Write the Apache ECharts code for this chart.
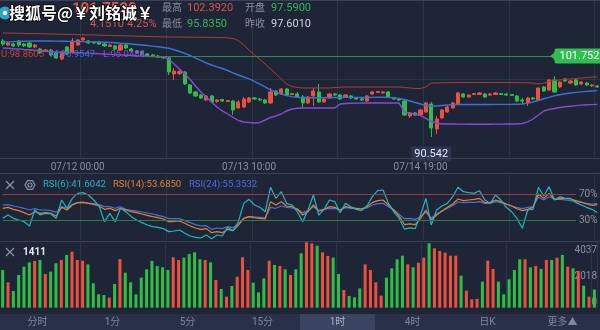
<!DOCTYPE html>
<html>
<head>
<meta charset="utf-8">
<script src="https://cdn.jsdelivr.net/npm/echarts@6/dist/echarts.min.js"></script>
<style>
  html, body { margin: 0; padding: 0; background: #1e2536; }
  #chart { width: 600px; height: 330px; }
</style>
</head>
<body>
<div id="chart"></div>
<script>
// Hourly OHLC candles
const openPrices = [
  103.83, 103.27, 103.41, 103.83, 103.41, 103.55, 103.00, 102.72, 102.37, 102.58,
  102.17, 101.34, 103.00, 102.31, 103.27, 103.97, 103.83, 103.69, 103.69, 103.41,
  103.07, 103.14, 102.58, 103.27, 102.72, 102.44, 102.31, 102.03, 101.89, 101.75,
  101.68, 101.48, 99.26, 99.33, 99.54, 97.74, 96.77, 96.35, 95.66, 96.22,
  95.45, 95.73, 95.45, 95.52, 94.56, 94.69, 95.39, 95.94, 95.80, 95.66,
  95.25, 96.91, 96.49, 97.18, 96.42, 96.49, 96.08, 95.25, 96.22, 96.77,
  95.39, 95.94, 96.49, 96.35, 96.08, 96.22, 95.94, 95.80, 95.52, 96.49,
  96.70, 96.63, 96.77, 95.94, 95.80, 95.52, 93.45, 93.86, 93.59, 94.00,
  95.11, 91.65, 93.17, 94.00, 94.56, 95.11, 96.49, 96.08, 96.42, 96.42,
  96.49, 96.35, 96.42, 96.56, 96.49, 96.42, 96.22, 95.66, 95.25, 95.94,
  95.66, 97.46, 97.05, 98.43, 97.46, 98.57, 98.01, 98.43, 97.88, 98.01,
  97.60, 97.60
];
const closePrices = [
  103.41, 103.55, 103.14, 103.27, 103.14, 103.00, 103.27, 102.17, 102.58, 101.89,
  101.48, 102.31, 102.03, 103.83, 103.97, 104.24, 103.55, 103.55, 103.41, 103.14,
  103.27, 102.72, 103.27, 102.86, 102.44, 102.24, 102.03, 101.82, 101.68, 101.61,
  101.48, 99.54, 99.67, 99.60, 97.88, 96.63, 96.22, 95.94, 96.22, 95.39,
  95.66, 95.52, 95.59, 94.28, 95.39, 95.80, 95.94, 95.80, 95.66, 95.25,
  96.77, 96.35, 97.18, 96.35, 96.56, 96.08, 95.25, 96.08, 96.91, 95.39,
  95.80, 96.49, 96.35, 95.80, 96.35, 95.94, 95.80, 95.66, 96.22, 96.77,
  96.84, 96.77, 96.08, 95.80, 95.66, 93.59, 93.86, 93.59, 94.28, 95.25,
  91.79, 93.03, 94.28, 94.69, 95.25, 96.63, 96.08, 96.35, 96.56, 96.63,
  96.08, 96.49, 96.63, 96.42, 96.35, 96.29, 95.52, 95.52, 95.94, 95.80,
  97.32, 96.91, 98.43, 96.77, 98.15, 98.29, 98.29, 97.74, 98.15, 97.74,
  97.74, 97.46
];
const lowPrices = [
  103.14, 103.14, 103.00, 103.00, 103.00, 102.86, 102.86, 102.03, 102.31, 101.75,
  101.34, 101.20, 101.89, 102.03, 103.14, 103.83, 103.41, 103.41, 103.27, 103.00,
  103.00, 102.58, 102.44, 102.72, 102.31, 102.17, 101.89, 101.75, 101.61, 101.48,
  101.34, 99.12, 98.43, 99.12, 97.74, 96.49, 96.08, 95.80, 95.52, 95.25,
  95.25, 95.39, 95.39, 93.59, 94.42, 94.56, 95.25, 95.66, 95.52, 95.11,
  95.11, 96.22, 96.35, 96.22, 96.35, 95.94, 94.56, 95.11, 94.83, 95.25,
  95.25, 95.80, 96.22, 95.66, 95.94, 95.80, 95.66, 95.52, 95.39, 96.35,
  96.63, 96.49, 95.94, 95.66, 95.52, 93.45, 93.17, 93.45, 93.45, 93.86,
  90.542, 90.96, 93.03, 93.86, 94.42, 94.97, 95.94, 95.94, 96.35, 96.35,
  95.94, 96.22, 96.35, 96.35, 96.22, 96.22, 95.39, 95.11, 94.83, 95.66,
  95.52, 96.77, 96.91, 96.63, 97.32, 98.15, 97.88, 97.60, 97.74, 97.60,
  97.46, 97.32
];
const highPrices = [
  104.10, 103.69, 103.55, 103.97, 103.55, 103.69, 103.41, 102.86, 102.72, 102.72,
  102.31, 102.44, 103.14, 104.24, 104.10, 104.38, 103.97, 103.83, 103.83, 103.55,
  103.41, 103.27, 103.41, 103.41, 102.86, 102.58, 102.44, 102.17, 102.03, 101.89,
  101.75, 101.75, 100.09, 99.81, 99.67, 97.88, 96.91, 96.49, 96.35, 96.35,
  95.80, 95.80, 95.66, 95.66, 95.66, 96.08, 96.08, 96.08, 95.94, 95.80,
  97.32, 97.05, 97.32, 97.32, 96.63, 96.77, 96.35, 96.22, 97.32, 97.88,
  95.94, 96.63, 96.63, 96.49, 96.49, 96.35, 96.08, 95.94, 96.35, 96.91,
  96.91, 96.91, 96.91, 96.08, 95.94, 95.66, 94.00, 94.00, 94.42, 95.39,
  95.39, 93.45, 94.42, 94.83, 95.39, 96.77, 96.63, 96.49, 96.63, 96.77,
  96.63, 96.63, 96.77, 96.63, 96.63, 96.49, 96.35, 95.94, 96.08, 96.08,
  97.46, 97.60, 98.57, 98.98, 98.29, 98.71, 98.43, 98.57, 98.29, 98.15,
  97.88, 97.74
];

// Bollinger bands (upper / middle / lower)
const bollUpper = [
  104.93, 104.92, 104.91, 104.89, 104.88, 104.86, 104.85, 104.84, 104.82, 104.79,
  104.78, 104.77, 104.74, 104.73, 104.71, 104.68, 104.67, 104.66, 104.64, 104.61,
  104.60, 104.57, 104.56, 104.53, 104.52, 104.49, 104.48, 104.45, 104.43, 104.41,
  104.39, 104.38, 104.38, 104.37, 104.37, 104.35, 104.35, 104.34, 104.34, 104.32,
  104.31, 104.30, 104.27, 104.17, 103.89, 103.27, 102.58, 101.89, 101.27, 100.64,
  99.95, 99.26, 98.57, 97.87, 97.53, 97.39, 97.32, 97.32, 97.32, 97.32,
  97.32, 97.32, 97.39, 97.43, 97.46, 97.46, 97.46, 97.46, 97.46, 97.46,
  97.46, 97.46, 97.46, 97.46, 97.46, 97.39, 97.32, 97.25, 97.25, 97.46,
  98.01, 98.01, 98.04, 98.05, 98.07, 98.08, 98.08, 98.08, 98.07, 98.08,
  98.08, 98.08, 98.07, 98.08, 98.08, 98.07, 98.06, 98.05, 98.03, 98.01,
  97.87, 98.01, 98.22, 98.36, 98.43, 98.50, 98.57, 98.64, 98.70, 98.77,
  98.82, 98.8605
];
const bollMid = [
  103.69, 103.71, 103.74, 103.77, 103.80, 103.81, 103.83, 103.83, 103.83, 103.83,
  103.81, 103.80, 103.78, 103.77, 103.76, 103.74, 103.71, 103.70, 103.69, 103.66,
  103.62, 103.58, 103.52, 103.47, 103.41, 103.34, 103.27, 103.20, 103.11, 103.02,
  102.93, 102.83, 102.61, 102.37, 102.10, 101.82, 101.47, 101.13, 100.78, 100.50,
  100.25, 100.02, 99.74, 99.40, 99.12, 98.84, 98.57, 98.25, 97.87, 97.46,
  97.04, 96.77, 96.49, 96.26, 96.12, 96.03, 95.99, 95.98, 95.98, 95.99,
  95.99, 96.01, 96.01, 96.01, 96.02, 96.02, 96.02, 96.01, 96.01, 96.02,
  96.04, 96.04, 96.02, 95.96, 95.88, 95.73, 95.52, 95.31, 95.11, 94.90,
  94.83, 94.83, 94.90, 94.97, 95.02, 95.05, 95.04, 95.04, 95.04, 95.04,
  95.04, 95.04, 95.05, 95.05, 95.05, 95.06, 95.08, 95.11, 95.22, 95.38,
  95.59, 95.83, 96.03, 96.24, 96.38, 96.52, 96.63, 96.71, 96.78, 96.85,
  96.91, 96.9547
];
const bollLower = [
  102.86, 102.82, 102.76, 102.72, 102.66, 102.61, 102.54, 102.47, 102.40, 102.34,
  102.30, 102.28, 102.25, 102.22, 102.19, 102.16, 102.14, 102.10, 102.05, 102.03,
  101.98, 101.94, 101.90, 101.86, 101.82, 101.78, 101.75, 101.71, 101.68, 101.64,
  101.61, 101.33, 100.64, 99.95, 99.26, 98.50, 97.60, 96.77, 96.08, 95.38,
  94.69, 94.14, 93.72, 93.24, 92.82, 92.62, 92.55, 92.48, 92.55, 92.89,
  93.24, 93.45, 93.72, 94.14, 94.41, 94.51, 94.55, 94.55, 94.55, 94.55,
  94.55, 94.55, 94.55, 95.11, 95.18, 95.20, 95.22, 95.24, 95.24, 95.24,
  95.24, 95.24, 95.24, 95.24, 95.24, 94.00, 93.86, 93.65, 93.51, 93.10,
  92.68, 92.48, 92.34, 92.34, 92.33, 92.32, 92.32, 92.31, 92.31, 92.31,
  92.31, 92.31, 92.32, 92.32, 92.33, 92.33, 92.34, 92.40, 92.62, 93.03,
  93.58, 94.14, 94.35, 94.48, 94.62, 94.72, 94.80, 94.88, 94.95, 95.00,
  95.02, 95.0488
];

// RSI(6), RSI(14), RSI(24) in percent
const rsi6 = [
  32.6, 37.7, 32.6, 30.0, 27.4, 20.8, 45.4, 37.7, 40.3, 39.2,
  32.6, 60.8, 48.0, 63.3, 71.0, 72.1, 68.5, 60.8, 51.5, 27.4,
  40.3, 27.4, 48.0, 42.8, 35.1, 30.0, 25.9, 22.3, 19.8, 18.7,
  16.7, 12.1, 13.1, 14.6, 9.5, 5.4, 3.3, 2.3, 6.9, 1.0,
  6.9, 5.4, 18.7, 13.6, 27.4, 55.6, 61.8, 53.1, 49.5, 42.8,
  80.3, 63.3, 73.6, 55.6, 53.1, 42.8, 27.4, 45.4, 68.5, 37.7,
  46.4, 60.8, 58.2, 41.3, 55.6, 50.5, 46.4, 44.4, 51.5, 65.9,
  75.1, 76.2, 55.6, 42.8, 32.6, 16.0, 18.0, 16.7, 37.7, 63.3,
  22.3, 45.4, 51.5, 55.6, 65.9, 80.3, 73.6, 72.1, 71.0, 75.1,
  60.8, 55.6, 68.5, 60.8, 49.5, 42.8, 32.6, 17.2, 45.4, 46.4,
  80.3, 66.9, 81.3, 60.8, 65.9, 63.3, 63.3, 56.7, 53.1, 49.5,
  46.4, 41.6042
];
const rsi14 = [
  48.0, 49.5, 46.4, 44.4, 41.3, 37.7, 42.8, 40.3, 41.3, 40.3,
  36.2, 49.5, 45.4, 53.1, 56.7, 57.2, 55.6, 54.1, 51.5, 46.4,
  48.0, 44.4, 48.0, 45.4, 42.8, 41.3, 39.2, 37.2, 35.1, 33.6,
  31.5, 27.4, 28.0, 28.5, 24.9, 20.8, 17.7, 15.6, 16.7, 10.5,
  12.1, 10.5, 15.6, 13.6, 22.3, 32.6, 35.1, 33.6, 32.6, 31.5,
  58.2, 53.1, 58.2, 51.5, 50.5, 46.9, 37.7, 42.8, 53.1, 43.9,
  46.4, 50.5, 49.5, 45.4, 50.5, 49.0, 48.0, 46.9, 50.5, 56.7,
  59.8, 60.8, 53.1, 45.4, 36.2, 23.0, 24.0, 23.0, 32.6, 45.4,
  30.0, 37.7, 43.9, 49.5, 54.6, 62.3, 59.8, 60.8, 61.8, 63.3,
  56.7, 56.7, 60.8, 58.2, 54.6, 51.5, 47.4, 44.4, 46.4, 49.5,
  70.0, 63.3, 71.0, 61.8, 63.3, 62.8, 62.3, 59.8, 57.7, 54.6,
  52.6, 53.6850
];
const rsi24 = [
  53.1, 53.6, 51.5, 50.0, 48.0, 45.4, 47.4, 45.4, 45.4, 44.4,
  41.8, 50.5, 48.0, 54.1, 56.7, 57.2, 56.2, 55.1, 53.6, 50.5,
  50.5, 48.0, 50.5, 46.4, 44.9, 43.9, 42.3, 40.8, 39.2, 37.2,
  35.1, 32.1, 32.1, 32.1, 29.0, 25.9, 22.8, 20.8, 21.3, 15.6,
  17.7, 16.7, 19.8, 18.2, 23.9, 32.6, 35.1, 34.6, 34.0, 33.4,
  49.5, 48.0, 51.5, 49.5, 48.5, 46.4, 41.3, 44.4, 50.5, 44.4,
  46.4, 48.0, 47.4, 45.4, 49.0, 48.0, 47.4, 46.9, 48.5, 53.1,
  55.1, 55.6, 50.5, 45.4, 38.7, 32.0, 32.5, 31.0, 35.1, 42.3,
  33.1, 39.2, 43.9, 48.0, 52.1, 57.7, 56.7, 57.2, 57.2, 58.2,
  55.6, 55.6, 58.2, 56.7, 54.6, 51.5, 49.0, 47.4, 49.5, 50.5,
  65.4, 60.8, 65.9, 61.8, 61.8, 60.8, 59.8, 58.2, 57.2, 55.6,
  54.6, 55.3532
];

// Traded volume per candle
const volumes = [
  2923, 1966, 1293, 2535, 3182, 3518, 3622, 3699, 2613, 2794,
  3441, 3699, 4087, 4346, 3699, 3648, 3363, 1889, 1035, 983,
  776, 1837, 3777, 2716, 1966, 1035, 2328, 2975, 3622, 3234,
  3130, 2923, 3906, 3699, 3881, 4165, 4294, 3751, 3699, 3518,
  2147, 1449, 854, 1682, 2406, 3906, 2923, 1940, 1190, 2277,
  3648, 3311, 3234, 2975, 2535, 2975, 4217, 5071, 4993, 4812,
  4294, 4010, 3881, 2613, 1371, 905, 802, 1500, 3363, 2923,
  1966, 931, 2328, 3053, 3751, 4036, 3363, 3130, 3492, 3881,
  4993, 4605, 4398, 4268, 4036, 4036, 2484, 1319, 647, 673,
  2018, 3648, 3001, 2018, 1035, 2199, 2923, 3751, 3751, 3130,
  3234, 3001, 3699, 3699, 3881, 4087, 3182, 3053, 2846, 1707,
  854, 1411
];

// Time axis tick labels and the candle they sit on
const tickIndex = [14, 46, 78];
const tickLabels = ['07/12 00:00', '07/13 10:00', '07/14 19:00'];
const categories = volumes.map((_, i) => String(i));

// Quote header
const lastPrice = 101.752;
const change = 4.1510;
const changePct = '4.25%';
const quoteHigh = '102.3920';
const quoteOpen = '97.5900';
const quoteLow = '95.8350';
const quotePrevClose = '97.6010';
const tabs = ['分时', '1分', '5分', '15分', '1时', '4时', '日K', '更多▲'];
const activeTab = 4;

const UP = '#ee4f3e';
const DOWN = '#2ebf47';
const TAG = '#2fbf4f';
const GRAY = '#8a90a0';
const FONT = 'Roboto, "Noto Sans CJK SC", sans-serif';
const last = a => a[a.length - 1];

const candleData = openPrices.map((o, i) => [o, closePrices[i], lowPrices[i], highPrices[i]]);
const volumeData = volumes.map((v, i) => ({
  value: v,
  itemStyle: { color: closePrices[i] >= openPrices[i] ? UP : DOWN }
}));

function text(str, x, y, fill, size, extra, z) {
  return {
    type: 'text', z: z || 60,
    style: Object.assign({
      text: str, x: x, y: y, fill: fill,
      font: size + 'px ' + FONT, verticalAlign: 'middle'
    }, extra || {})
  };
}
function hline(y, color) {
  return { type: 'line', z: 20, shape: { x1: 0, y1: y, x2: 600, y2: y }, style: { stroke: color, lineWidth: 1 } };
}
function cross(cx, cy) {
  return [
    { type: 'line', z: 60, shape: { x1: cx - 4, y1: cy - 4, x2: cx + 4, y2: cy + 4 }, style: { stroke: GRAY, lineWidth: 1.2 } },
    { type: 'line', z: 60, shape: { x1: cx + 4, y1: cy - 4, x2: cx - 4, y2: cy + 4 }, style: { stroke: GRAY, lineWidth: 1.2 } }
  ];
}
const hexPoints = [];
for (let k = 0; k < 6; k++) {
  const a = Math.PI / 3 * k;
  hexPoints.push([30 + 5 * Math.cos(a), 185 + 5 * Math.sin(a)]);
}

const graphics = [
  hline(0.5, '#3a4259'),
  hline(158.5, '#3a4259'),
  hline(173.5, '#3a4259'),
  hline(241.5, '#3a4259'),
  // quote header
  text(lastPrice.toFixed(4), 72, 9, '#e0524c', 15, { font: 'bold 15px ' + FONT }),
  text(change.toFixed(4), 90, 24, '#e0524c', 11),
  text(changePct, 127, 24, '#e0524c', 11),
  text('最高', 162, 8, GRAY, 10),
  text(quoteHigh, 187, 8, '#e0524c', 11),
  text('开盘', 245, 8, GRAY, 10),
  text(quoteOpen, 271, 8, '#35b55a', 11),
  text('最低', 162, 24, GRAY, 10),
  text(quoteLow, 187, 24, '#35b55a', 11),
  text('昨收', 245, 24, GRAY, 10),
  text(quotePrevClose, 271, 24, '#cfd3db', 11),
  // BOLL legend
  text('U:' + last(bollUpper).toFixed(4), 1, 55, '#c0463d', 9.5),
  text('M:' + last(bollMid).toFixed(4), 50, 55, '#3f6fd8', 9.5),
  text('L:' + last(bollLower).toFixed(4), 103, 55, '#8a4fdd', 9.5),
  // RSI header
  ...cross(10, 185),
  { type: 'polygon', z: 60, shape: { points: hexPoints }, style: { fill: 'none', stroke: GRAY, lineWidth: 1.2 } },
  { type: 'circle', z: 60, shape: { cx: 30, cy: 185, r: 2 }, style: { fill: 'none', stroke: GRAY, lineWidth: 1.2 } },
  text('RSI(6):' + last(rsi6).toFixed(4), 43, 185, '#22b5c4', 9.5),
  text('RSI(14):' + last(rsi14).toFixed(4), 113, 185, '#e8812a', 9.5),
  text('RSI(24):' + last(rsi24).toFixed(4), 189, 185, '#4a6fe0', 9.5),
  // volume header
  ...cross(10, 252),
  text(String(last(volumes)), 23, 252, '#e6e8ee', 10, { font: 'bold 10px ' + FONT }),
  // period tabs
  { type: 'rect', z: 70, shape: { x: 0, y: 314, width: 600, height: 16 }, style: { fill: '#29314a' } },
  { type: 'rect', z: 71, shape: { x: 300, y: 314, width: 75, height: 16 }, style: { fill: '#3a4460' } }
];
tabs.forEach((t, i) => {
  graphics.push(text(t, 37.5 + 75 * i, 322, i === activeTab ? '#aeb4c4' : '#7f8799', 10, { align: 'center' }, 72));
});
// watermark
graphics.push(
  { type: 'circle', z: 90, shape: { cx: 5, cy: 13, r: 6.5 }, style: { fill: '#2fa3c7' } },
  { type: 'circle', z: 91, shape: { cx: 5, cy: 13, r: 2.2 }, style: { fill: '#ffffff' } },
  {
    type: 'text', z: 92,
    style: {
      text: '搜狐号@￥刘铭诚￥', x: 9, y: 13, fill: '#ffffff',
      font: 'bold 16px "Noto Sans CJK SC", sans-serif', verticalAlign: 'middle',
      stroke: '#000000', lineWidth: 1.5,
      shadowColor: 'rgba(0,0,0,0.9)', shadowBlur: 1, shadowOffsetX: 1, shadowOffsetY: 1
    }
  }
);

const splitX = { show: true, interval: idx => idx >= 15 && (idx - 15) % 16 === 0, lineStyle: { color: 'rgba(255,255,255,0.07)' } };

const option = {
  animation: false,
  backgroundColor: '#1e2536',
  textStyle: { fontFamily: FONT },
  grid: [
    { left: 0, right: 0, top: 0, height: 158 },
    { left: 0, right: 0, top: 174.5, height: 65 },
    { left: 0, right: 0, top: 242, height: 65.67 }
  ],
  xAxis: [
    {
      type: 'category', gridIndex: 0, data: categories, boundaryGap: true,
      axisLine: { show: false }, axisTick: { show: false },
      axisLabel: {
        show: true, color: GRAY, fontSize: 10, margin: 4,
        interval: idx => tickIndex.indexOf(idx) >= 0,
        formatter: (v, idx) => tickLabels[tickIndex.indexOf(idx)] || ''
      },
      splitLine: splitX
    },
    {
      type: 'category', gridIndex: 1, data: categories, boundaryGap: true,
      axisLine: { show: false }, axisTick: { show: false }, axisLabel: { show: false },
      splitLine: splitX
    },
    {
      type: 'category', gridIndex: 2, data: categories, boundaryGap: true,
      axisLine: { show: false }, axisTick: { show: false }, axisLabel: { show: false },
      splitLine: splitX
    }
  ],
  yAxis: [
    {
      type: 'value', gridIndex: 0, min: 87.63, max: 109.50, interval: 10.935,
      axisLine: { show: false }, axisTick: { show: false }, axisLabel: { show: false },
      splitLine: { show: true, lineStyle: { color: 'rgba(255,255,255,0.07)' } }
    },
    {
      type: 'value', gridIndex: 1, min: 0, max: 100,
      axisLine: { show: false }, axisTick: { show: false }, axisLabel: { show: false },
      splitLine: { show: false }
    },
    {
      type: 'value', gridIndex: 2, min: 0, max: 5096, interval: 2018.5, position: 'right',
      axisLine: { show: false }, axisTick: { show: false },
      axisLabel: {
        show: true, inside: true, margin: 0, color: GRAY, fontSize: 10,
        verticalAlign: 'bottom', showMaxLabel: false,
        formatter: v => String(Math.floor(v))
      },
      splitLine: { show: false }
    }
  ],
  series: [
    {
      type: 'candlestick', xAxisIndex: 0, yAxisIndex: 0, data: candleData, barWidth: 3.6,
      itemStyle: { color: UP, color0: DOWN, borderColor: UP, borderColor0: DOWN, borderWidth: 1 },
      markPoint: {
        silent: true,
        symbol: 'rect', symbolSize: [40, 15], symbolOffset: [0, 17],
        itemStyle: { color: '#2c3550' },
        label: { show: true, position: 'inside', color: '#e8eaf0', fontSize: 11, formatter: p => p.value.toFixed(3) },
        data: [
          { type: 'min', valueDim: 'lowest' },
          // pointer notch on the last-price tag
          {
            coord: [103, lastPrice], symbol: 'triangle', symbolSize: [15, 8], symbolRotate: 90,
            symbolOffset: [0, 0], itemStyle: { color: TAG }, label: { show: false }
          }
        ]
      },
      markLine: {
        silent: true, symbol: ['none', 'none'],
        lineStyle: { color: '#2f8f45', width: 1, type: 'solid' },
        label: {
          show: true, position: 'end', distance: 0,
          formatter: () => lastPrice.toFixed(4),
          backgroundColor: TAG, color: '#ffffff', fontSize: 11,
          padding: [2, 2, 2, 5], borderRadius: 2
        },
        // the price line runs from just past the band legend to the tag
        data: [[{ xAxis: 27, yAxis: lastPrice }, { xAxis: 103, yAxis: lastPrice }]]
      }
    },
    { type: 'line', xAxisIndex: 0, yAxisIndex: 0, data: bollUpper, showSymbol: false, lineStyle: { color: '#b23b36', width: 1 }, z: 3 },
    { type: 'line', xAxisIndex: 0, yAxisIndex: 0, data: bollMid, showSymbol: false, lineStyle: { color: '#3c6fdc', width: 1.4 }, z: 3 },
    { type: 'line', xAxisIndex: 0, yAxisIndex: 0, data: bollLower, showSymbol: false, lineStyle: { color: '#8848dc', width: 1.4 }, z: 3 },
    {
      type: 'line', xAxisIndex: 1, yAxisIndex: 1, data: rsi6, showSymbol: false,
      lineStyle: { color: '#22b5c4', width: 1.2 }, z: 4,
      markLine: {
        silent: true, symbol: ['none', 'none'],
        label: { show: true, position: 'end', distance: 3, color: GRAY, fontSize: 10, formatter: p => p.name },
        data: [
          [{ name: '70%', xAxis: 0, yAxis: 70, lineStyle: { color: '#9a3a42', width: 1, type: 'solid' } }, { xAxis: 107, yAxis: 70 }],
          [{ name: '30%', xAxis: 0, yAxis: 30, lineStyle: { color: '#2e7d46', width: 1, type: 'solid' } }, { xAxis: 107, yAxis: 30 }]
        ]
      }
    },
    { type: 'line', xAxisIndex: 1, yAxisIndex: 1, data: rsi14, showSymbol: false, lineStyle: { color: '#e8812a', width: 1.2 }, z: 3 },
    { type: 'line', xAxisIndex: 1, yAxisIndex: 1, data: rsi24, showSymbol: false, lineStyle: { color: '#4a6fe0', width: 1.2 }, z: 2 },
    { type: 'bar', xAxisIndex: 2, yAxisIndex: 2, data: volumeData, barWidth: 3 }
  ],
  graphic: graphics
};

const chart = echarts.init(document.getElementById('chart'));
chart.setOption(option);
</script>
</body>
</html>
